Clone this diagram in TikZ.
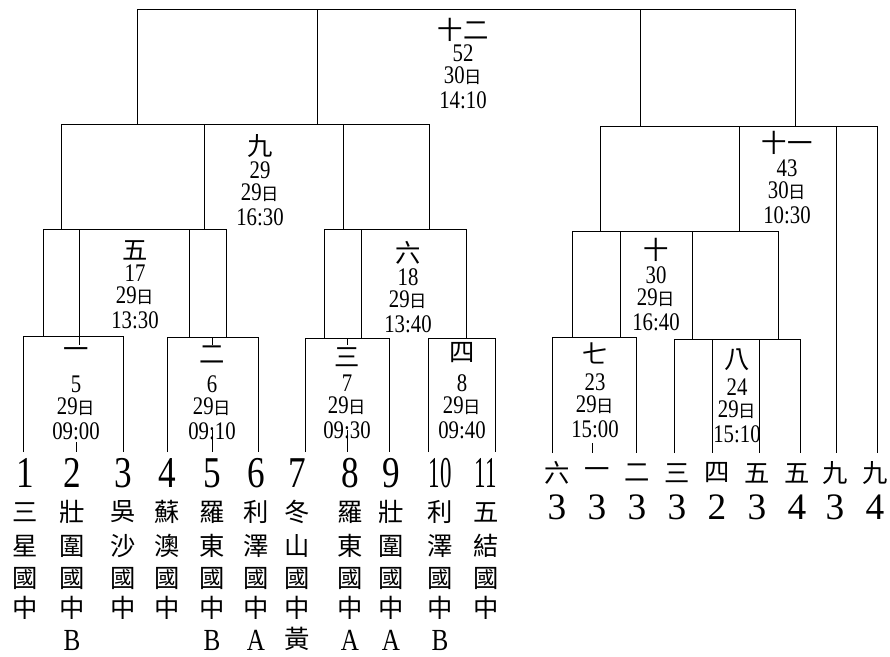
\documentclass[tikz,border=0pt]{standalone}
\usepackage{fontspec}
\usepackage{graphicx}
\setmainfont{Liberation Serif}
\newfontfamily\cjk{Noto Sans CJK TC}
\newcommand{\nr}[1]{\scalebox{0.82}[1]{#1}}
\newcommand{\ri}[1]{\nr{#1}{\cjk\fontsize{13}{13}\selectfont 日}}

\begin{document}
\begin{tikzpicture}[x=0.75pt,y=0.75pt,line width=0.7pt,
    every node/.style={inner sep=0pt},
    ti/.style={font=\cjk\fontsize{19}{19}\selectfont},
    nm/.style={font=\fontsize{19}{19}\selectfont},
    seed/.style={font=\fontsize{33}{33}\selectfont},
    zi/.style={font=\cjk\fontsize{19}{19}\selectfont},
    ab/.style={font=\fontsize{23}{23}\selectfont},
    rk/.style={font=\fontsize{28}{28}\selectfont}]
    \useasboundingbox (0,0) rectangle (890,-657);
    % final
    \draw (137,-124) |- (795,-9) -- (795,-126);
    \draw (317,-9) -- (317,-124);
    \draw (640,-9) -- (640,-126);
    % second level
    \draw (61,-229) |- (429,-124) -- (429,-229);
    \draw (204,-124) -- (204,-229);
    \draw (343,-124) -- (343,-229);
    \draw (600,-231) |- (877,-126) -- (877,-453);
    \draw (739,-126) -- (739,-231);
    \draw (836,-126) -- (836,-453);
    % third level
    \draw (43,-336) |- (226,-229) -- (226,-337);
    \draw (79,-229) -- (79,-345);
    \draw (189,-229) -- (189,-337);
    \draw (324,-338) |- (466,-229) -- (466,-338);
    \draw (361,-229) -- (361,-338);
    \draw (572,-337) |- (778,-231) -- (778,-339);
    \draw (620,-231) -- (620,-337);
    \draw (692,-231) -- (692,-339);
    % first round
    \draw (23,-452) |- (123,-336) -- (123,-452);
    \draw (76,-442) -- (76,-452);
    \draw (167,-452) |- (258,-337) -- (258,-452);
    \draw (212,-337) -- (212,-345) (212,-430) -- (212,-452);
    \draw (305,-452) |- (389,-338) -- (389,-452);
    \draw (347,-338) -- (347,-345) (347,-430) -- (347,-452);
    \draw (428,-452) |- (495,-338) -- (495,-452);
    \draw (552,-453) |- (636,-337) -- (636,-453);
    \draw (592,-443) -- (592,-453);
    \draw (674,-453) |- (800,-339) -- (800,-453);
    \draw (712,-339) -- (712,-453);
    \draw (759,-339) -- (759,-453);
    % match labels
    \foreach \g/\x/\ya/\yb/\ti/\nu/\da/\tm in {
        m12/463/30/53/十二/52/30/14:10,
        m9/260/146/170/九/29/29/16:30,
        m11/787/143/168/十一/43/30/10:30,
        m5/135/250/273/五/17/29/13:30,
        m6/408/253/277/六/18/29/13:40,
        m10/656/250/275/十/30/29/16:40,
        m1/76/353/384/一/5/29/09:00,
        m2/212/355/384/二/6/29/09:10,
        m3/347/357/383/三/7/29/09:30,
        m4/462/353/383/四/8/29/09:40,
        m7/595/353/382/七/23/29/15:00,
        m8/737/360/387/八/24/29/15:10}
    {
        \node[ti] (\g) at (\x,-\ya) {\ti};
        \node[nm] (\g-n) at (\x,-\yb) {\nr{\nu}};
        \node[nm] (\g-d) at (\x,-\yb-23) {\ri{\da}};
        \node[nm] (\g-t) at (\x,-\yb-47) {\nr{\tm}};
    }
    % teams
    \foreach \x/\k/\s/\ca/\cb/\cc/\cd in {
        25/1/0.8/三/星/國/中, 72/2/0.8/壯/圍/國/中,
        123/3/0.8/吳/沙/國/中, 167/4/0.8/蘇/澳/國/中,
        212/5/0.8/羅/東/國/中, 256/6/0.8/利/澤/國/中,
        297/7/0.8/冬/山/國/中, 350/8/0.8/羅/東/國/中,
        391/9/0.8/壯/圍/國/中, 440/10/0.52/利/澤/國/中,
        486/11/0.52/五/結/國/中}
    {
        \node[seed] (s\k) at (\x,-473) {\scalebox{\s}[1]{\k}};
        \node[zi] (s\k-a) at (\x,-512) {\ca};
        \node[zi] (s\k-b) at (\x,-546) {\cb};
        \node[zi] (s\k-c) at (\x,-578) {\cc};
        \node[zi] (s\k-d) at (\x,-608) {\cd};
    }
    \node[ab] (s2-e) at (72,-640) {\nr{B}};
    \node[ab] (s5-e) at (212,-640) {\nr{B}};
    \node[ab] (s6-e) at (256,-640) {\nr{A}};
    \node[zi] (s7-e) at (297,-639) {黃};
    \node[ab] (s8-e) at (350,-640) {\nr{A}};
    \node[ab] (s9-e) at (391,-640) {\nr{A}};
    \node[ab] (s10-e) at (440,-640) {\nr{B}};
    % qualifiers
    \foreach \x/\ca/\k [count=\i] in {557/六/3, 597/一/3, 637/二/3, 677/三/3,
        717/四/2, 757/五/3, 797/五/4, 835/九/3, 875/九/4}
    {
        \node[zi] (q\i) at (\x,-473) {\ca};
        \node[rk] (q\i-n) at (\x,-507) {\k};
    }
\end{tikzpicture}
\end{document}
